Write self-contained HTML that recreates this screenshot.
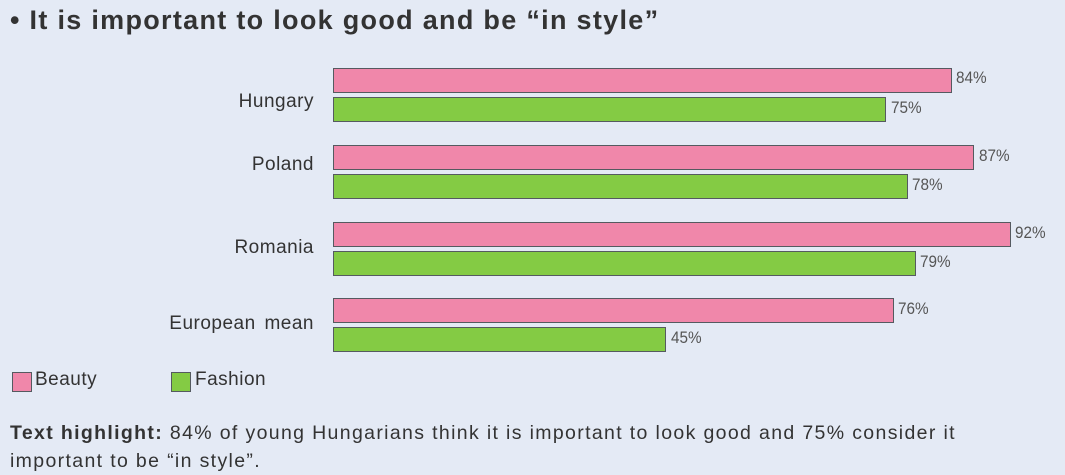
<!DOCTYPE html>
<html><head><style>
body{margin:0;width:1065px;height:473px;background:#e4eaf5;font-family:"Liberation Sans",sans-serif;position:relative;overflow:hidden;color:#333}
.t{position:absolute;left:10px;top:5px;font-size:27px;font-weight:bold;color:#333;letter-spacing:1.3px;white-space:nowrap}
.b{position:absolute;left:333px;height:25px;border:1px solid #555a60;box-sizing:border-box}
.p{background:#f087aa}.g{background:#84cb44}
.v{position:absolute;font-size:17px;color:#555;transform:scaleX(0.9);transform-origin:left}
.c{position:absolute;right:751px;font-size:19px;color:#333;text-align:right;white-space:nowrap;word-spacing:3px;letter-spacing:0.5px}
.lg{position:absolute;font-size:19px;color:#333;letter-spacing:0.5px}
.sw{position:absolute;width:20px;height:20px;border:1px solid #555a60;box-sizing:border-box}
.f{position:absolute;left:10px;top:419px;font-size:19.5px;line-height:28px;width:1050px;color:#333;letter-spacing:1.35px;white-space:nowrap}
</style></head><body>
<div class="t">• It is important to look good and be “in style”</div>
<div class="c" style="top:91px">Hungary</div>
<div class="c" style="top:154px">Poland</div>
<div class="c" style="top:237px">Romania</div>
<div class="c" style="top:313px">European mean</div>
<div class="b p" style="top:68px;width:619px"></div><div class="v" style="left:956px;top:68px">84%</div>
<div class="b g" style="top:97px;width:553px"></div><div class="v" style="left:891px;top:98px">75%</div>
<div class="b p" style="top:145px;width:641px"></div><div class="v" style="left:979px;top:146px">87%</div>
<div class="b g" style="top:174px;width:575px"></div><div class="v" style="left:912px;top:175px">78%</div>
<div class="b p" style="top:222px;width:678px"></div><div class="v" style="left:1015px;top:223px">92%</div>
<div class="b g" style="top:251px;width:583px"></div><div class="v" style="left:920px;top:252px">79%</div>
<div class="b p" style="top:298px;width:561px"></div><div class="v" style="left:898px;top:299px">76%</div>
<div class="b g" style="top:327px;width:333px"></div><div class="v" style="left:671px;top:328px">45%</div>
<div class="sw p" style="left:12px;top:372px"></div><div class="lg" style="left:35px;top:369px">Beauty</div>
<div class="sw g" style="left:171px;top:372px"></div><div class="lg" style="left:195px;top:369px">Fashion</div>
<div class="f"><b>Text highlight:</b> 84% of young Hungarians think it is important to look good and 75% consider it<br>important to be “in style”.</div>
</body></html>
